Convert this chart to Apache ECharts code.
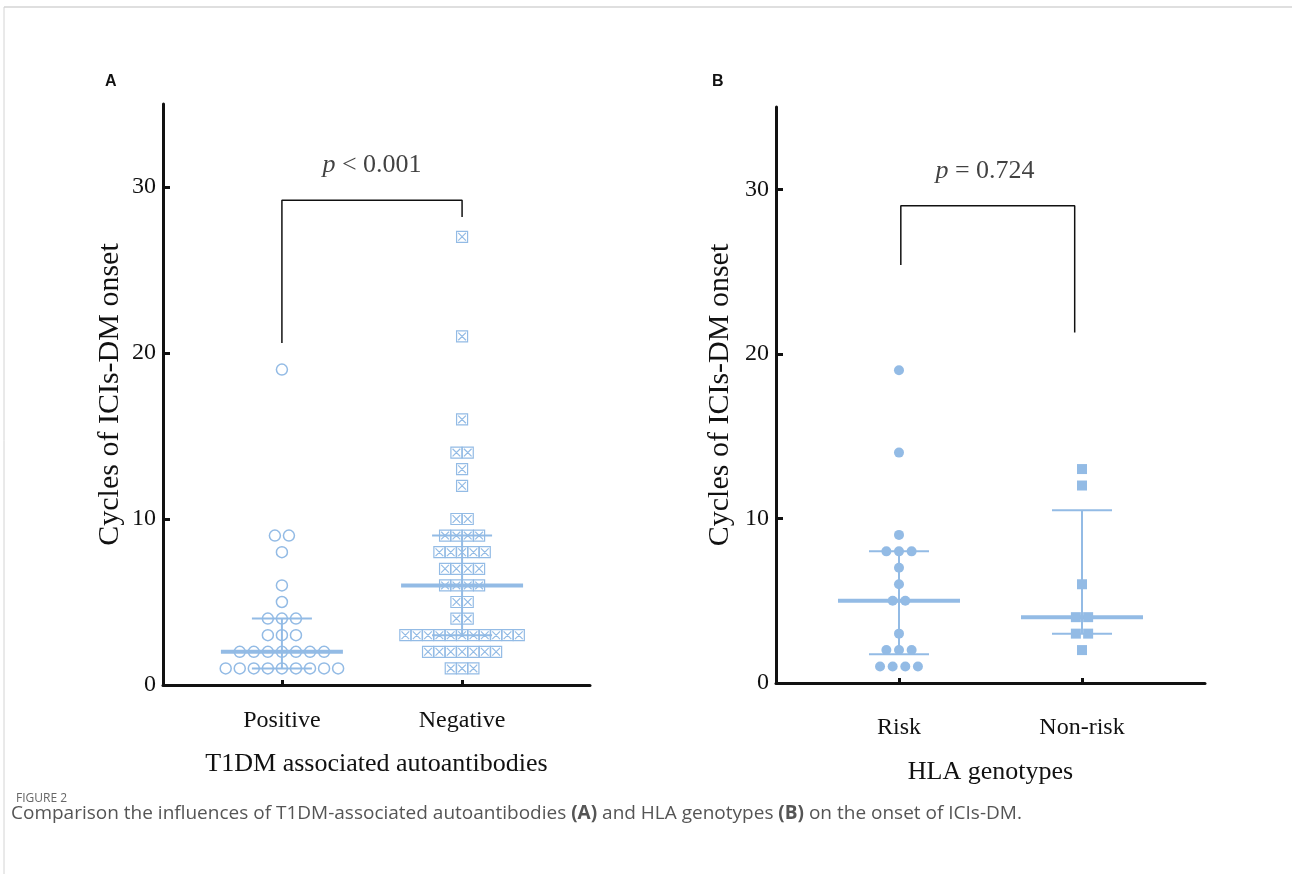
<!DOCTYPE html>
<html>
<head>
<meta charset="utf-8">
<script src="https://cdn.jsdelivr.net/npm/echarts@6/dist/echarts.min.js"></script>
<style>
  html, body { margin: 0; padding: 0; background: #fff; }
  #chart { width: 1292px; height: 874px; }
</style>
</head>
<body>
<div id="chart"></div>
<script>
// panel A: T1DM associated autoantibodies
var catsA = ['Positive', 'Negative'];
var positiveA = [1, 1, 1, 1, 1, 1, 1, 1, 1, 2, 2, 2, 2, 2, 2, 2, 3, 3, 3, 4, 4, 4, 5, 6, 8, 9, 9, 19];
var negativeA = [1, 1, 1, 2, 2, 2, 2, 2, 2, 2, 3, 3, 3, 3, 3, 3, 3, 3, 3, 3, 3, 4, 4, 5, 5,
                 6, 6, 6, 6, 7, 7, 7, 7, 8, 8, 8, 8, 8, 9, 9, 9, 9, 10, 10, 12, 13, 14, 14, 16, 21, 27];
var medianA = [2, 6];
var lowerA = [1, 3];
var upperA = [4, 9];
var bracketA = [[1, 20.6], [1, 29.2], [2, 29.2], [2, 28.2]];
var pTextA = [1.5, 31.3];

// panel B: HLA genotypes
var catsB = ['Risk', 'Non-risk'];
var riskB = [1, 1, 1, 1, 2, 2, 2, 3, 5, 5, 6, 7, 8, 8, 8, 9, 14, 19];
var nonRiskB = [2, 3, 3, 4, 4, 6, 12, 13];
var medianB = [5, 4];
var lowerB = [1.75, 3];
var upperB = [8, 10.5];
var bracketB = [[1.01, 25.4], [1.01, 29.0], [1.96, 29.0], [1.96, 21.3]];
var pTextB = [1.47, 31.1];

var yTicks = [0, 10, 20, 30];

var BLUE = '#93bbe5';
var SERIF = '"Liberation Serif", "DejaVu Serif", serif';
var boxX = 'path://M0,0L10,0L10,10L0,10Z M1.5,1.5L8.5,8.5 M8.5,1.5L1.5,8.5';

// spread equal values side by side, like a dot plot
function dotPlot(values, center, step) {
  var counts = {};
  values.forEach(function (v) { counts[v] = (counts[v] || 0) + 1; });
  var seen = {};
  return values.map(function (v) {
    var i = seen[v] || 0;
    seen[v] = i + 1;
    return [center + (i - (counts[v] - 1) / 2) * step, v];
  });
}

function barRows(med, lo, hi) {
  return med.map(function (m, i) { return [i + 1, m, lo[i], hi[i]]; });
}

function renderBars(params, api) {
  var pm = api.coord([api.value(0), api.value(1)]);
  var pl = api.coord([api.value(0), api.value(2)]);
  var ph = api.coord([api.value(0), api.value(3)]);
  return {
    type: 'group',
    children: [
      { type: 'line', shape: { x1: pl[0], y1: pl[1], x2: ph[0], y2: ph[1] }, style: { stroke: BLUE, lineWidth: 2 } },
      { type: 'line', shape: { x1: pm[0] - 61, y1: pm[1], x2: pm[0] + 61, y2: pm[1] }, style: { stroke: BLUE, lineWidth: 4 } },
      { type: 'line', shape: { x1: pl[0] - 30, y1: pl[1], x2: pl[0] + 30, y2: pl[1] }, style: { stroke: BLUE, lineWidth: 2 } },
      { type: 'line', shape: { x1: ph[0] - 30, y1: ph[1], x2: ph[0] + 30, y2: ph[1] }, style: { stroke: BLUE, lineWidth: 2 } }
    ]
  };
}

function xAxisFor(grid, cats, min, max, title, margin, gap) {
  return {
    type: 'value', gridIndex: grid, min: min, max: max,
    axisLine: { lineStyle: { color: '#111', width: 3 } },
    axisTick: { inside: true, length: 5, lineStyle: { color: '#111', width: 3 }, customValues: [1, 2] },
    axisLabel: {
      customValues: [1, 2], margin: margin, color: '#111', fontFamily: SERIF, fontSize: 24,
      formatter: function (v) { return cats[Math.round(v) - 1]; }
    },
    splitLine: { show: false },
    name: title, nameLocation: 'middle', nameGap: gap,
    nameTextStyle: { color: '#111', fontFamily: SERIF, fontSize: 26 }
  };
}

function yAxisFor(grid, gap) {
  return {
    type: 'value', gridIndex: grid, min: 0, max: 35,
    axisLine: { show: true, lineStyle: { color: '#111', width: 3 } },
    axisTick: { show: true, inside: true, length: 7, lineStyle: { color: '#111', width: 3 }, customValues: yTicks },
    axisLabel: { customValues: yTicks, margin: 7, color: '#111', fontFamily: SERIF, fontSize: 24 },
    splitLine: { show: false },
    name: 'Cycles of ICIs-DM onset', nameLocation: 'middle', nameGap: gap, nameRotate: 90,
    nameTextStyle: { color: '#111', fontFamily: SERIF, fontSize: 30 }
  };
}

function pLabel(idx, pos, op, val) {
  return {
    type: 'scatter', xAxisIndex: idx, yAxisIndex: idx, symbolSize: 1, silent: true,
    itemStyle: { color: 'rgba(0,0,0,0)' },
    data: [pos],
    label: {
      show: true, position: 'inside', color: '#111', fontFamily: SERIF, fontSize: 26,
      formatter: '{i|p} ' + op + ' ' + val,
      rich: { i: { fontStyle: 'italic', fontFamily: SERIF, fontSize: 26, color: '#111' } }
    }
  };
}

function bracket(idx, data) {
  return {
    type: 'line', xAxisIndex: idx, yAxisIndex: idx, symbol: 'none', silent: true,
    lineStyle: { color: '#111', width: 1.5 }, data: data, z: 3
  };
}

var chart = echarts.init(document.getElementById('chart'));
chart.setOption({
  animation: false,
  backgroundColor: '#fff',
  grid: [
    { left: 163, top: 104, right: 702, bottom: 189 },
    { left: 776, top: 107, right: 87, bottom: 191 }
  ],
  xAxis: [
    xAxisFor(0, catsA, 0.34, 2.71, 'T1DM associated autoantibodies', 24, 66),
    xAxisFor(1, catsB, 0.328, 2.672, 'HLA genotypes', 33, 76)
  ],
  yAxis: [yAxisFor(0, 38), yAxisFor(1, 41)],
  series: [
    {
      type: 'custom', xAxisIndex: 0, yAxisIndex: 0, renderItem: renderBars, z: 1, silent: true,
      encode: { x: 0, y: [1, 2, 3] }, data: barRows(medianA, lowerA, upperA)
    },
    {
      type: 'scatter', xAxisIndex: 0, yAxisIndex: 0, symbol: 'circle', symbolSize: 11, z: 2,
      itemStyle: { color: 'rgba(0,0,0,0)', borderColor: BLUE, borderWidth: 1.5, opacity: 1 },
      data: dotPlot(positiveA, 1, 0.078)
    },
    {
      type: 'scatter', xAxisIndex: 0, yAxisIndex: 0, symbol: boxX, symbolSize: 11, z: 2,
      itemStyle: { color: 'rgba(0,0,0,0)', borderColor: BLUE, borderWidth: 1.2, opacity: 1 },
      data: dotPlot(negativeA, 2, 0.063)
    },
    bracket(0, bracketA),
    pLabel(0, pTextA, '<', '0.001'),
    {
      type: 'custom', xAxisIndex: 1, yAxisIndex: 1, renderItem: renderBars, z: 1, silent: true,
      encode: { x: 0, y: [1, 2, 3] }, data: barRows(medianB, lowerB, upperB)
    },
    {
      type: 'scatter', xAxisIndex: 1, yAxisIndex: 1, symbol: 'circle', symbolSize: 10, z: 2,
      itemStyle: { color: BLUE, opacity: 1 },
      data: dotPlot(riskB, 1, 0.069)
    },
    {
      type: 'scatter', xAxisIndex: 1, yAxisIndex: 1, symbol: 'rect', symbolSize: 10, z: 2,
      itemStyle: { color: BLUE, opacity: 1 },
      data: dotPlot(nonRiskB, 2, 0.067)
    },
    bracket(1, bracketB),
    pLabel(1, pTextB, '=', '0.724')
  ],
  graphic: [
    { type: 'line', shape: { x1: 4, y1: 7, x2: 1292, y2: 7 }, style: { stroke: '#d4d4d4', lineWidth: 1.5 } },
    { type: 'line', shape: { x1: 4, y1: 7, x2: 4, y2: 874 }, style: { stroke: '#d4d4d4', lineWidth: 1 } },
    { type: 'text', left: 105, top: 74, style: { text: 'A', font: 'bold 16px "Liberation Sans", Arial, sans-serif', fill: '#111' } },
    { type: 'text', left: 712, top: 74, style: { text: 'B', font: 'bold 16px "Liberation Sans", Arial, sans-serif', fill: '#111' } },
    { type: 'text', left: 16, top: 793, style: { text: 'FIGURE 2', font: '12px "Open Sans", sans-serif', fill: '#666' } },
    {
      type: 'text', left: 11, top: 804,
      style: {
        text: 'Comparison the influences of T1DM-associated autoantibodies {b|(A)} and HLA genotypes {b|(B)} on the onset of ICIs-DM.',
        font: '19px "Open Sans", sans-serif', fill: '#555',
        rich: { b: { fontWeight: 'bold', fontFamily: '"Open Sans", sans-serif', fontSize: 19, fill: '#555' } }
      }
    }
  ]
});
</script>
</body>
</html>
